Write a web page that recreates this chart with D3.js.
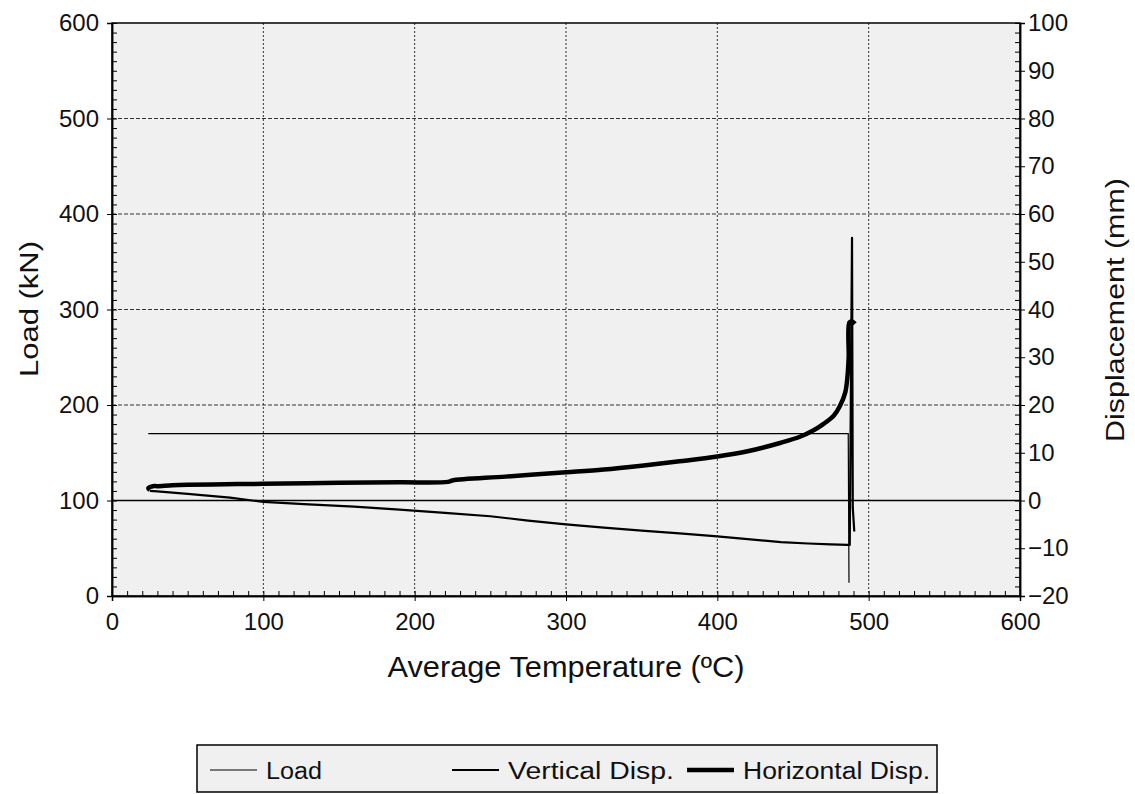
<!DOCTYPE html>
<html>
<head>
<meta charset="utf-8">
<script src="https://cdn.jsdelivr.net/npm/d3@7"></script>
<style>
  body { margin: 0; background: #fff; }
  svg { font-family: "Liberation Sans", Arial, sans-serif; }
  .tick text { font-size: 24px; fill: #111; }
</style>
</head>
<body>
<script>
// temperature (ºC) and values
var loadTemp = [24, 100, 200, 300, 400, 486.5, 487];
var loadKN   = [170, 170, 170, 170, 170, 170, 14];

var vertTemp = [25, 30, 50, 78, 100, 130, 160, 190, 220, 250, 275, 300, 325, 350, 375, 400, 420, 442, 460, 475, 486, 487.5, 489, 489.5, 490.5];
var vertDisp = [2.0, 1.9, 1.4, 0.6, -0.3, -0.8, -1.3, -1.9, -2.6, -3.3, -4.2, -5.0, -5.7, -6.3, -6.9, -7.5, -8.1, -8.7, -9.0, -9.2, -9.3, -9.3, 55, -1.5, -6.5];

var horTemp = [25, 24, 27, 30, 40, 50, 75, 100, 150, 190, 222, 225, 260, 300, 325, 350, 375, 400, 420, 442, 455, 463, 470, 477, 481, 484.5, 486, 486.8, 487.3, 489, 491];
var horDisp = [2.2, 2.6, 3.0, 3.0, 3.2, 3.3, 3.4, 3.5, 3.7, 3.8, 3.9, 4.2, 5.0, 5.9, 6.5, 7.3, 8.2, 9.2, 10.3, 12.1, 13.4, 14.6, 16.0, 17.8, 19.8, 22.6, 26.0, 30.0, 37.3, 37.5, 37.0];

var xTicks = [0, 100, 200, 300, 400, 500, 600];
var loadTicks = [0, 100, 200, 300, 400, 500, 600];
var dispTicks = [-20, -10, 0, 10, 20, 30, 40, 50, 60, 70, 80, 90, 100];

var W = 1135, H = 794;
var margin = {left: 112, right: 115, top: 23, bottom: 198};
var width = W - margin.left - margin.right;
var height = H - margin.top - margin.bottom;

var svg = d3.select("body").append("svg").attr("width", W).attr("height", H);

var x = d3.scaleLinear().domain([0, 600]).range([0, width]);
var yL = d3.scaleLinear().domain([0, 600]).range([height, 0]);
var yR = d3.scaleLinear().domain([-20, 100]).range([height, 0]);

var g = svg.append("g").attr("transform", "translate(" + margin.left + "," + margin.top + ")");

g.append("rect").attr("width", width).attr("height", height).attr("fill", "#f0f0f0");

// grid
g.selectAll(".vgrid").data(xTicks.slice(1, -1)).enter().append("line")
  .attr("x1", function(d){ return x(d); }).attr("x2", function(d){ return x(d); })
  .attr("y1", 0).attr("y2", height)
  .attr("stroke", "#333").attr("stroke-width", 1).attr("stroke-dasharray", "2,2");
g.selectAll(".hgrid").data(loadTicks.slice(2, -1)).enter().append("line")
  .attr("x1", 0).attr("x2", width)
  .attr("y1", function(d){ return yL(d); }).attr("y2", function(d){ return yL(d); })
  .attr("stroke", "#333").attr("stroke-width", 1).attr("stroke-dasharray", "4,2");
// zero displacement line
g.append("line").attr("x1", 0).attr("x2", width)
  .attr("y1", yR(0)).attr("y2", yR(0))
  .attr("stroke", "#000").attr("stroke-width", 1.5);

// minor ticks
function minor(axis, scale, vals) {
  return axis(scale).tickValues(vals).tickSizeInner(-5).tickSizeOuter(0).tickFormat("");
}
g.append("g").call(minor(d3.axisLeft, yL, d3.range(0, 601, 10)));
g.append("g").attr("transform", "translate(" + width + ",0)").call(minor(d3.axisRight, yR, d3.range(-20, 101, 2)));
g.append("g").attr("transform", "translate(0," + height + ")").call(minor(d3.axisBottom, x, d3.range(0, 601, 10)));

// major axes
g.append("g").call(d3.axisLeft(yL).tickValues(loadTicks).tickSize(5).tickPadding(8));
g.append("g").attr("transform", "translate(" + width + ",0)")
  .call(d3.axisRight(yR).tickValues(dispTicks).tickSize(5).tickPadding(3));
g.append("g").attr("transform", "translate(0," + height + ")")
  .call(d3.axisBottom(x).tickValues(xTicks).tickSize(5).tickPadding(12));
g.selectAll(".domain").attr("stroke", "#000").attr("stroke-width", 1.5);
g.selectAll(".tick line").attr("stroke", "#000");

g.append("rect").attr("width", width).attr("height", height)
  .attr("fill", "none").attr("stroke", "#000").attr("stroke-width", 1.5);

// series
function zip(a, b) { return a.map(function(d, i){ return [d, b[i]]; }); }
var lineL = d3.line().x(function(d){ return x(d[0]); }).y(function(d){ return yL(d[1]); });
var lineR = d3.line().x(function(d){ return x(d[0]); }).y(function(d){ return yR(d[1]); });
var lineRs = d3.line().curve(d3.curveCatmullRom.alpha(0.5))
  .x(function(d){ return x(d[0]); }).y(function(d){ return yR(d[1]); });

g.append("path").attr("d", lineL(zip(loadTemp, loadKN)))
  .attr("fill", "none").attr("stroke", "#000").attr("stroke-width", 1.2);
g.append("path").attr("d", lineR(zip(vertTemp, vertDisp)))
  .attr("fill", "none").attr("stroke", "#000").attr("stroke-width", 2.2).attr("stroke-linejoin", "round");
g.append("path").attr("d", lineRs(zip(horTemp, horDisp)))
  .attr("fill", "none").attr("stroke", "#000").attr("stroke-width", 4.5).attr("stroke-linejoin", "round");

// axis titles
svg.append("text").attr("transform", "translate(38," + 309 + ") rotate(-90)")
  .attr("text-anchor", "middle").attr("font-size", 26).attr("fill", "#111")
  .attr("textLength", 136).attr("lengthAdjust", "spacingAndGlyphs").text("Load (kN)");
svg.append("text").attr("transform", "translate(1124," + 310 + ") rotate(-90)")
  .attr("text-anchor", "middle").attr("font-size", 26).attr("fill", "#111")
  .attr("textLength", 264).attr("lengthAdjust", "spacingAndGlyphs").text("Displacement (mm)");
svg.append("text").attr("x", 566).attr("y", 677)
  .attr("text-anchor", "middle").attr("font-size", 29).attr("fill", "#111")
  .attr("textLength", 357).attr("lengthAdjust", "spacingAndGlyphs").text("Average Temperature (ºC)");

// legend
var legend = svg.append("g");
legend.append("rect").attr("x", 197).attr("y", 745).attr("width", 740).attr("height", 47)
  .attr("fill", "#f0f0f0").attr("stroke", "#000").attr("stroke-width", 1.5);
var items = [
  {name: "Load", x: 210, w: 1.2, len: 56},
  {name: "Vertical Disp.", x: 452, w: 2.2, len: 166},
  {name: "Horizontal Disp.", x: 687, w: 4.5, len: 187}
];
items.forEach(function(it){
  legend.append("line").attr("x1", it.x).attr("x2", it.x + 47).attr("y1", 770).attr("y2", 770)
    .attr("stroke", "#000").attr("stroke-width", it.w);
  legend.append("text").attr("x", it.x + 56).attr("y", 779).attr("font-size", 23).attr("fill", "#111")
    .attr("textLength", it.len).attr("lengthAdjust", "spacingAndGlyphs").text(it.name);
});
</script>
</body>
</html>
